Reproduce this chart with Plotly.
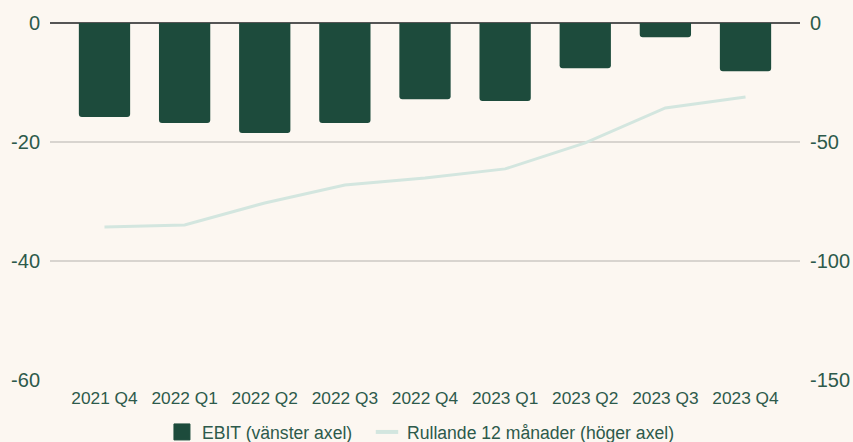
import plotly.graph_objects as go

categories = ["2021 Q4", "2022 Q1", "2022 Q2", "2022 Q3", "2022 Q4",
              "2023 Q1", "2023 Q2", "2023 Q3", "2023 Q4"]
ebit = [-15.8, -16.8, -18.5, -16.8, -12.8, -13.1, -7.6, -2.4, -8.1]
rolling_12m = [-85.7, -84.9, -75.6, -68.1, -65.1, -61.3, -50.4, -35.7, -31.1]

left_ticks = [0, -20, -40, -60]
right_ticks = [0, -50, -100, -150]

bg = "#fcf7f1"
bar_color = "#1d4b3c"
line_color = "#d3e6df"
text_color = "#2d5a4b"
font_family = "Liberation Sans, Arial, sans-serif"

fig = go.Figure()
fig.add_trace(go.Bar(
    x=categories, y=ebit, name="EBIT (vänster axel)", showlegend=False,
    marker=dict(color=bar_color, line=dict(width=0), cornerradius=3),
    yaxis="y",
))
fig.add_trace(go.Scatter(
    x=categories, y=rolling_12m, name="Rullande 12 månader (höger axel)",
    showlegend=False, mode="lines", line=dict(color=line_color, width=3),
    yaxis="y2",
))
# legend-only entries (no data drawn)
fig.add_trace(go.Scatter(
    x=[None], y=[None], name="EBIT (vänster axel)\u00a0\u00a0", mode="markers",
    marker=dict(symbol="square", size=16, color=bar_color,
                line=dict(color=bar_color, width=1)),
))
fig.add_trace(go.Scatter(
    x=[None], y=[None], name="Rullande 12 månader (höger axel)", mode="markers",
    marker=dict(symbol="line-ew", size=16, color=line_color,
                line=dict(color=line_color, width=4)),
))

fig.update_layout(
    width=853, height=442,
    paper_bgcolor=bg, plot_bgcolor=bg,
    margin=dict(l=50, r=53, t=23, b=62, autoexpand=False),
    font=dict(family=font_family, color=text_color),
    bargap=0.36,
    showlegend=True,
    legend=dict(orientation="h", x=0.4935, xanchor="center", xref="container",
                y=(442 - 432) / 442, yanchor="middle", yref="container",
                font=dict(size=17.6, color=text_color), bgcolor="rgba(0,0,0,0)",
                itemwidth=30, tracegroupgap=0),
    xaxis=dict(range=[-0.68, 8.68], showgrid=False, showline=False, zeroline=False,
               automargin=False, ticks="", ticklabelstandoff=6,
               tickfont=dict(size=17.3, color=text_color)),
    yaxis=dict(range=[-60, 0], tickvals=left_ticks, ticktext=[str(v) for v in left_ticks],
               showgrid=True, gridcolor="#d8d4cf", gridwidth=1.5,
               zeroline=True, zerolinecolor="#555555", zerolinewidth=1.5,
               automargin=False, showline=False, ticks="", ticklabelstandoff=9,
               tickfont=dict(size=20, color=text_color)),
    yaxis2=dict(range=[-150, 0], tickvals=right_ticks, ticktext=[str(v) for v in right_ticks],
                overlaying="y", side="right", showgrid=False, zeroline=False,
                automargin=False, showline=False, ticks="", ticklabelstandoff=9,
                tickfont=dict(size=20, color=text_color)),
)

fig.write_html(
    "out.html",
    config={"displayModeBar": False},
    post_script="document.body.style.margin='0';document.body.style.background='" + bg + "';",
)
